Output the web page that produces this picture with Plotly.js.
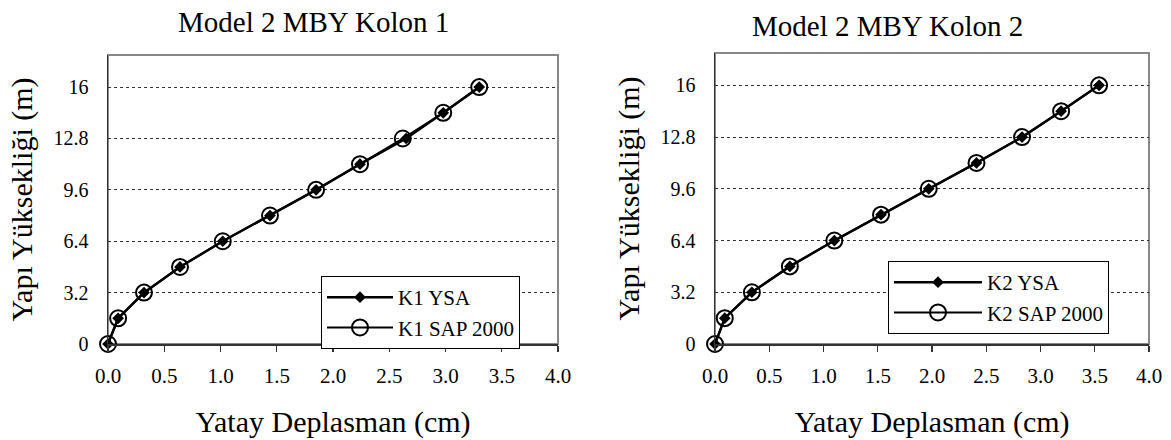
<!DOCTYPE html>
<html>
<head>
<meta charset="utf-8">
<script src="https://cdn.plot.ly/plotly-3.0.1.min.js"></script>
<style>html,body{margin:0;padding:0;background:#fff;}#chart{width:1171px;height:440px;}</style>
</head>
<body>
<div id="chart"></div>
<script>
// Data
const heights = [0, 1.6, 3.2, 4.8, 6.4, 8.0, 9.6, 11.2, 12.8, 14.4, 16.0];
const k1YSA = [0, 0.09, 0.32, 0.64, 1.02, 1.44, 1.85, 2.24, 2.65, 2.98, 3.30];
const k1SAP = [0, 0.09, 0.32, 0.64, 1.02, 1.44, 1.85, 2.24, 2.62, 2.98, 3.30];
const k2YSA = [0, 0.09, 0.34, 0.69, 1.10, 1.53, 1.97, 2.41, 2.83, 3.19, 3.54];
const k2SAP = [0, 0.09, 0.34, 0.69, 1.10, 1.53, 1.97, 2.41, 2.83, 3.19, 3.54];
const yTickVals = [0, 3.2, 6.4, 9.6, 12.8, 16];
const yTickText = ['0', '3.2', '6.4', '9.6', '12.8', '16'];
const titles = ['Model 2 MBY Kolon 1', 'Model 2 MBY Kolon 2'];
const xTitle = 'Yatay Deplasman (cm)';
const yTitle = 'Yapı Yüksekliği (m)';

const FONT = 'Liberation Serif';
const W = 1171, H = 440;

function ysaTrace(x, name, xa, ya, lg) {
  return {x: x, y: heights, name: name, xaxis: xa, yaxis: ya, legend: lg,
    type: 'scatter', mode: 'lines+markers', cliponaxis: false,
    line: {color: '#000', width: 2.5},
    marker: {symbol: 'diamond', size: 9, color: '#000'}};
}
function sapTrace(x, name, xa, ya, lg) {
  return {x: x, y: heights, name: name, xaxis: xa, yaxis: ya, legend: lg,
    type: 'scatter', mode: 'lines+markers', cliponaxis: false,
    line: {color: '#000', width: 2},
    marker: {symbol: 'circle-open', size: 16, color: '#000', line: {width: 2, color: '#000'}}};
}

const traces = [
  ysaTrace(k1YSA, 'K1 YSA', 'x', 'y', 'legend'),
  sapTrace(k1SAP, 'K1 SAP 2000', 'x', 'y', 'legend'),
  ysaTrace(k2YSA, 'K2 YSA', 'x2', 'y2', 'legend2'),
  sapTrace(k2SAP, 'K2 SAP 2000', 'x2', 'y2', 'legend2')
];

function xAxis(dom, anchor) {
  return {domain: dom, anchor: anchor, range: [0, 4], dtick: 0.5, tick0: 0, tickformat: '.1f',
    showgrid: false, zeroline: false, showline: true, linecolor: '#333', linewidth: 1.5,
    ticks: 'outside', ticklen: 6, tickwidth: 1.2, tickcolor: '#333', ticklabelstandoff: 6,
    tickfont: {family: FONT, size: 21, color: '#000'},
    title: {text: xTitle, font: {family: FONT, size: 30, color: '#000'}, standoff: 24},
    automargin: false, fixedrange: true};
}
function yAxis(dom, anchor) {
  return {domain: dom, anchor: anchor, range: [0, 18], tickvals: yTickVals, ticktext: yTickText,
    showgrid: true, gridcolor: '#333', gridwidth: 1, griddash: 'dot',
    zeroline: false, showline: true, linecolor: '#333', linewidth: 1.5,
    ticks: '', ticklabelstandoff: 14,
    tickfont: {family: FONT, size: 20, color: '#000'},
    title: {text: yTitle, font: {family: FONT, size: 30, color: '#000'}, standoff: 12},
    automargin: false, fixedrange: true};
}

const d1x = [108 / W, 558 / W], d2x = [715 / W, 1149 / W];
const d1y = [1 - 344 / H, 1 - 55 / H], d2y = [1 - 344 / H, 1 - 53 / H];

function legendStyle(x, y, iw) {
  return {x: x, y: y, xanchor: 'left', yanchor: 'top',
    bgcolor: '#fff', bordercolor: '#000', borderwidth: 1,
    font: {family: FONT, size: 21, color: '#000'}, itemwidth: iw, tracegroupgap: 0};
}

const layout = {
  width: W, height: H,
  margin: {l: 0, r: 0, t: 0, b: 0},
  paper_bgcolor: '#fff', plot_bgcolor: '#fff',
  font: {family: FONT, color: '#000'},
  showlegend: true,
  xaxis: xAxis(d1x, 'y'), yaxis: yAxis(d1y, 'x'),
  xaxis2: xAxis(d2x, 'y2'), yaxis2: yAxis(d2y, 'x2'),
  legend: legendStyle(321 / W, 1 - 276 / H, 66),
  legend2: legendStyle(888 / W, 1 - 261 / H, 88),
  shapes: [
    {type: 'rect', xref: 'paper', yref: 'paper', x0: d1x[0], x1: d1x[1], y0: d1y[0], y1: d1y[1],
      line: {color: '#888', width: 2}, layer: 'below'},
    {type: 'rect', xref: 'paper', yref: 'paper', x0: d2x[0], x1: d2x[1], y0: d2y[0], y1: d2y[1],
      line: {color: '#888', width: 2}, layer: 'below'}
  ],
  annotations: [
    {text: titles[0], xref: 'paper', yref: 'paper', x: 313 / W, y: 1 - 22 / H,
      xanchor: 'center', yanchor: 'middle', showarrow: false,
      font: {family: FONT, size: 29, color: '#000'}},
    {text: titles[1], xref: 'paper', yref: 'paper', x: 887 / W, y: 1 - 26 / H,
      xanchor: 'center', yanchor: 'middle', showarrow: false,
      font: {family: FONT, size: 29, color: '#000'}}
  ]
};

Plotly.newPlot('chart', traces, layout, {staticPlot: true, displayModeBar: false});
</script>
</body>
</html>
